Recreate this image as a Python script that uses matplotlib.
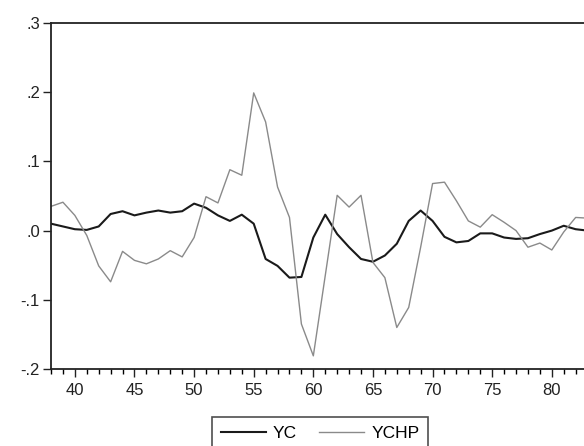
import matplotlib
matplotlib.use('Agg')
import matplotlib.pyplot as plt
from matplotlib.ticker import MultipleLocator, FuncFormatter

plt.rcParams['font.family'] = ['Liberation Sans', 'DejaVu Sans']

years = list(range(1938, 1984))

yc = [0.010, 0.006, 0.002, 0.001, 0.006, 0.024, 0.028, 0.022, 0.026, 0.029,
      0.026, 0.028, 0.039, 0.033, 0.022, 0.014, 0.023, 0.010, -0.041, -0.051,
      -0.068, -0.067, -0.010, 0.023, -0.005, -0.024, -0.041, -0.045, -0.036,
      -0.019, 0.014, 0.029, 0.014, -0.009, -0.017, -0.015, -0.004, -0.004,
      -0.010, -0.012, -0.011, -0.005, 0.000, 0.007, 0.002, 0.000]

ychp = [0.035, 0.041, 0.022, -0.007, -0.051, -0.074, -0.030, -0.043, -0.048,
        -0.041, -0.029, -0.038, -0.010, 0.049, 0.040, 0.088, 0.080, 0.199,
        0.157, 0.063, 0.019, -0.135, -0.181, -0.065, 0.051, 0.034, 0.051,
        -0.046, -0.068, -0.140, -0.111, -0.024, 0.068, 0.070, 0.043, 0.014,
        0.005, 0.023, 0.012, 0.000, -0.024, -0.018, -0.028, -0.002, 0.019,
        0.018]

x = [y - 1900 for y in years]

fig = plt.figure(figsize=(5.84, 4.46), dpi=100)
ax = fig.add_axes([51 / 584, 1 - 369 / 446, 1 - 51 / 584, (369 - 23) / 446])

ax.plot(x, yc, color='#1a1a1a', lw=1.5, label='YC')
ax.plot(x, ychp, color='#8a8a8a', lw=1.0, label='YCHP')

ax.set_xlim(38, 82.7)
ax.set_ylim(-0.2, 0.3)
ax.xaxis.set_major_locator(MultipleLocator(5))
ax.xaxis.set_minor_locator(MultipleLocator(1))
ax.yaxis.set_major_locator(MultipleLocator(0.1))


def fmt(v, pos):
    s = '%.1f' % v
    if s == '-0.0':
        s = '0.0'
    return s.replace('0.', '.', 1)


ax.yaxis.set_major_formatter(FuncFormatter(fmt))
ax.tick_params(axis='both', which='major', direction='out', length=6,
               width=1, labelsize=12, colors='#222222')
ax.tick_params(axis='x', which='minor', direction='out', length=3.5, width=1)
ax.tick_params(axis='x', pad=4)
ax.tick_params(axis='y', pad=2)

for side in ['left', 'bottom', 'top']:
    ax.spines[side].set_linewidth(1.3)
    ax.spines[side].set_color('#222222')
ax.spines['right'].set_visible(False)

leg = fig.legend(loc='upper center', bbox_to_anchor=(320 / 584, 1 - 417 / 446),
                 ncol=2, fontsize=12.5, frameon=True, fancybox=False,
                 handlelength=2.6, columnspacing=1.3, borderpad=0.5,
                 handletextpad=0.4, borderaxespad=0)
leg.get_frame().set_edgecolor('#222222')
leg.get_frame().set_linewidth(1.2)

plt.savefig('out.png', dpi=100)
